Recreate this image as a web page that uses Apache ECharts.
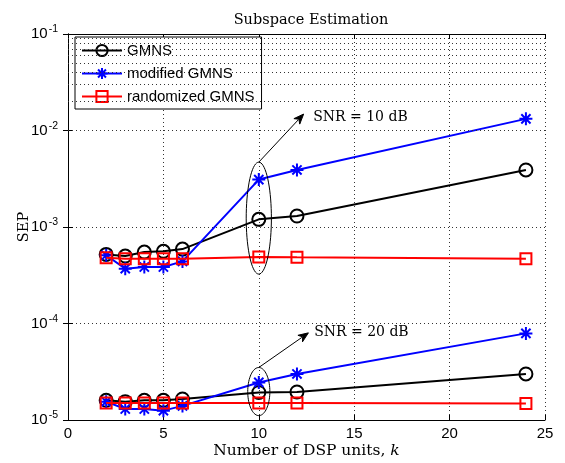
<!DOCTYPE html>
<html><head><meta charset="utf-8">
<script src="https://cdn.jsdelivr.net/npm/echarts@6/dist/echarts.min.js"></script>
<style>html,body{margin:0;padding:0;background:#fff}#c{width:565px;height:463px}</style>
</head><body><div id="c"></div>
<script>
const xK = [2, 3, 4, 5, 6, 10, 12, 24];
const gmns10 = [5.2e-4, 5.0e-4, 5.5e-4, 5.6e-4, 5.9e-4, 1.2e-3, 1.3e-3, 3.9e-3];
const modified10 = [5.1e-4, 3.7e-4, 3.85e-4, 3.85e-4, 4.4e-4, 3.1e-3, 3.9e-3, 1.32e-2];
const randomized10 = [4.8e-4, 4.7e-4, 4.7e-4, 4.7e-4, 4.7e-4, 4.9e-4, 4.85e-4, 4.7e-4];
const gmns20 = [1.6e-5, 1.55e-5, 1.6e-5, 1.6e-5, 1.65e-5, 1.93e-5, 1.95e-5, 3.0e-5];
const modified20 = [1.55e-5, 1.3e-5, 1.3e-5, 1.25e-5, 1.4e-5, 2.45e-5, 3.0e-5, 7.9e-5];
const randomized20 = [1.5e-5, 1.5e-5, 1.5e-5, 1.5e-5, 1.5e-5, 1.5e-5, 1.5e-5, 1.48e-5];
const xTicks = [0, 5, 10, 15, 20, 25];
const yTicks = [1e-5, 1e-4, 1e-3, 1e-2, 1e-1];
const minorY = [];
[1e-5, 1e-4, 1e-3, 1e-2].forEach(d => { for (let m = 2; m <= 9; m++) minorY.push(m * d); });
const seriesNames = ['GMNS', 'modified GMNS', 'randomized GMNS'];
// annotations (data units)
const notes = [
  {label: 'SNR = 10 dB', cx: 10, hw: 0.66, yTop: 4.7e-3, yBot: 3.25e-4, tipX: 12.35, tipY: 1.48e-2, txtX: 12.85, txtY: 1.38e-2},
  {label: 'SNR = 20 dB', cx: 10, hw: 0.58, yTop: 3.5e-5, yBot: 1.11e-5, tipX: 12.6, tipY: 8.0e-5, txtX: 12.9, txtY: 8.1e-5}
];

const star = 'path://M10,0L10,20M0,10L20,10M2.9,2.9L17.1,17.1M2.9,17.1L17.1,2.9';
const styles = [
  {color: '#000', symbol: 'circle', size: 13},
  {color: '#0000ff', symbol: star, size: 13},
  {color: '#ff0000', symbol: 'rect', size: 11}
];
function mk(nameIdx, vals) {
  const st = styles[nameIdx];
  return {
    name: seriesNames[nameIdx], type: 'line',
    data: xK.map((x, i) => [x, vals[i]]),
    symbol: st.symbol, symbolSize: st.size,
    lineStyle: {color: st.color, width: 2},
    itemStyle: {color: 'rgba(255,255,255,0)', borderColor: st.color, borderWidth: 2},
    emphasis: {disabled: true}, animation: false, z: 3 + nameIdx
  };
}
const chart = echarts.init(document.getElementById('c'));
const sup = {fontFamily: 'Liberation Sans', fontSize: 10.5, color: '#000', verticalAlign: 'top', padding: [0, 0, 9, 1]};
const series = [
  mk(0, gmns10), mk(1, modified10), mk(2, randomized10),
  mk(0, gmns20), mk(1, modified20), mk(2, randomized20)
];
series.push({
  type: 'line', data: [], silent: true, animation: false,
  markLine: {
    silent: true, symbol: 'none', animation: false, label: {show: false},
    lineStyle: {color: '#333', type: [1, 3], width: 1},
    data: minorY.map(v => ({yAxis: v}))
  }
});
chart.setOption({
  animation: false,
  title: {text: 'Subspace Estimation', left: 306, top: 8, textAlign: 'center',
    textStyle: {fontFamily: 'DejaVu Serif', fontWeight: 'normal', fontSize: 14.5, color: '#000'}},
  legend: {
    data: seriesNames, orient: 'vertical', left: 75, top: 37,
    backgroundColor: '#fff', borderColor: '#000', borderWidth: 1,
    padding: [6, 7, 5, 6], itemGap: 8, itemWidth: 40, itemHeight: 14,
    textStyle: {fontFamily: 'Liberation Sans', fontSize: 15, color: '#000'}
  },
  grid: {left: 68, right: 20, top: 34, bottom: 43, containLabel: false, outerBoundsMode: 'none'},
  xAxis: [{
    type: 'value', min: 0, max: 25, interval: 5,
    name: 'Number of DSP units, {i|k}', nameLocation: 'middle', nameGap: 23, nameMoveOverlap: false,
    nameTextStyle: {fontFamily: 'DejaVu Serif', fontSize: 15.5, color: '#000',
      rich: {i: {fontFamily: 'DejaVu Serif', fontStyle: 'italic', fontSize: 15.5, color: '#000'}}},
    axisLine: {lineStyle: {color: '#000', width: 1}},
    axisTick: {inside: true, length: 5, lineStyle: {color: '#000'}},
    axisLabel: {fontFamily: 'Liberation Sans', fontSize: 15, color: '#000', margin: 6},
    splitLine: {show: true, lineStyle: {color: '#333', type: [1, 3]}}
  }, {
    type: 'value', min: 0, max: 25, interval: 5, position: 'top',
    axisLine: {lineStyle: {color: '#000'}},
    axisTick: {inside: true, length: 5, lineStyle: {color: '#000'}},
    axisLabel: {show: false}, splitLine: {show: false}
  }],
  yAxis: [{
    type: 'log', min: 1e-5, max: 1e-1, logBase: 10,
    name: 'SEP', nameLocation: 'middle', nameGap: 36, nameMoveOverlap: false,
    nameTextStyle: {fontFamily: 'DejaVu Serif', fontSize: 14.5, color: '#000'},
    axisLine: {show: true, lineStyle: {color: '#000', width: 1}},
    axisTick: {inside: true, length: 5, lineStyle: {color: '#000'}},
    axisLabel: {
      margin: 10, fontFamily: 'Liberation Sans', fontSize: 15, color: '#000',
      formatter: v => '{b|10}{s|' + Math.round(Math.log10(v)) + '}',
      rich: {b: {fontFamily: 'Liberation Sans', fontSize: 15, color: '#000'}, s: sup}
    },
    splitLine: {show: true, lineStyle: {color: '#333', type: [1, 3]}}
  }, {
    type: 'log', min: 1e-5, max: 1e-1, position: 'right',
    axisLine: {show: true, lineStyle: {color: '#000'}},
    axisTick: {inside: true, length: 5, lineStyle: {color: '#000'}},
    axisLabel: {show: false}, splitLine: {show: false}
  }],
  series: series
});

function px(x, y) { return chart.convertToPixel({xAxisIndex: 0, yAxisIndex: 0}, [x, y]); }
const g = [];
notes.forEach(n => {
  const top = px(n.cx, n.yTop), bot = px(n.cx, n.yBot), side = px(n.cx + n.hw, n.yTop);
  const cxp = top[0], cyp = (top[1] + bot[1]) / 2, ry = (bot[1] - top[1]) / 2, rx = side[0] - top[0];
  const pts = [];
  for (let i = 0; i < 72; i++) { const a = i / 72 * Math.PI * 2; pts.push([cxp + rx * Math.cos(a), cyp + ry * Math.sin(a)]); }
  g.push({type: 'polygon', shape: {points: pts}, style: {fill: 'none', stroke: '#000', lineWidth: 1}, z: 10, silent: true});
  const tip = px(n.tipX, n.tipY);
  const dx = tip[0] - top[0], dy = tip[1] - top[1], L = Math.hypot(dx, dy), ux = dx / L, uy = dy / L;
  const hl = 10, hw = 4;
  const bx = tip[0] - ux * hl, by = tip[1] - uy * hl;
  g.push({type: 'line', shape: {x1: top[0], y1: top[1], x2: bx + ux * 2, y2: by + uy * 2}, style: {stroke: '#000', lineWidth: 1}, z: 10, silent: true});
  g.push({type: 'polygon', shape: {points: [[tip[0], tip[1]], [bx - uy * hw, by + ux * hw], [bx + ux * 3, by + uy * 3], [bx + uy * hw, by - ux * hw]]},
    style: {fill: '#000', stroke: '#000', lineWidth: 1}, z: 10, silent: true});
  const t = px(n.txtX, n.txtY);
  g.push({type: 'text', x: t[0], y: t[1], style: {text: n.label, fontFamily: 'DejaVu Serif', fontSize: 14, fill: '#000', textVerticalAlign: 'middle', verticalAlign: 'middle'}, z: 10, silent: true});
});
chart.setOption({graphic: g});
</script></body></html>
